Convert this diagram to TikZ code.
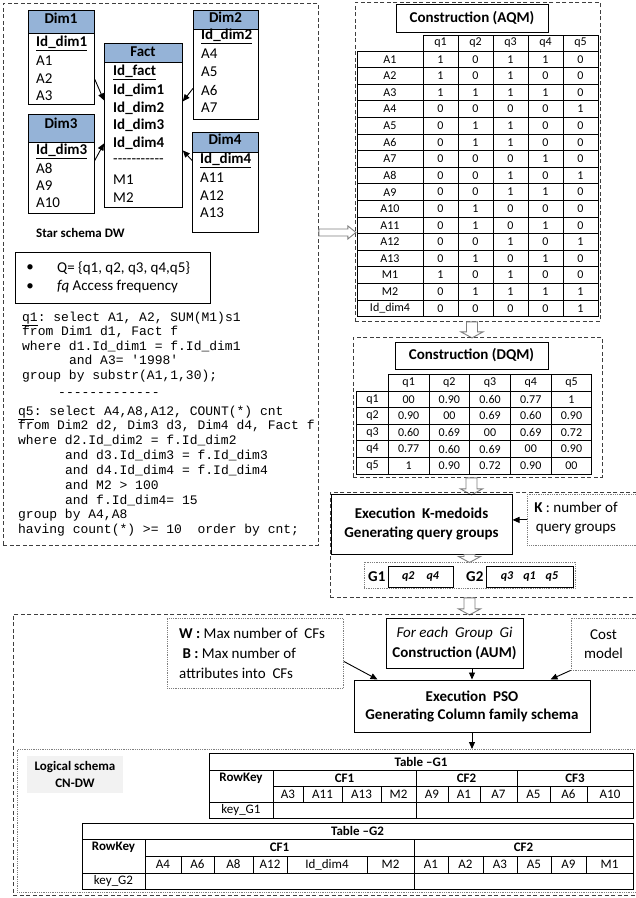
\documentclass[tikz,border=0pt]{standalone}
\usepackage{fontspec}
\setmainfont{Carlito}
\setmonofont{Liberation Mono}
\usetikzlibrary{arrows.meta, positioning, calc}
\definecolor{headblue}{HTML}{95B3D7}
\definecolor{dashgray}{HTML}{3F3F3F}
\definecolor{dotgray}{HTML}{7F7F7F}
\definecolor{labelbg}{HTML}{F2F2F2}
\definecolor{hollowgray}{HTML}{7F7F7F}

\begin{document}
\begin{tikzpicture}[x=1pt, y=-1pt,
  dashpanel/.style={draw=dashgray, line width=0.9pt, dash pattern=on 4pt off 2.5pt, inner sep=0pt},
  dotbox/.style={draw=dotgray, line width=0.8pt, dash pattern=on 0.9pt off 0.9pt, inner sep=0pt},
  solidbox/.style={draw=black, line width=0.8pt, inner sep=0pt},
  headcell/.style={draw=black, line width=0.8pt, fill=headblue, inner sep=0pt},
  bigtext/.style={font=\fontsize{15}{18}\selectfont, inner sep=0pt},
  bigbold/.style={font=\fontsize{15}{18}\selectfont\bfseries, inner sep=0pt},
  keyrow/.style={bigbold, anchor=west},
  attrrow/.style={bigtext, anchor=west},
  codeline/.style={anchor=west, font=\ttfamily\fontsize{13}{15}\selectfont, inner sep=0pt, text height=9pt, text depth=3pt},
  matcell/.style={draw=black, line width=1pt, inner sep=0pt, font=\fontsize{12}{14}\selectfont},
  cfcell/.style={draw=black, line width=0.8pt, inner sep=0pt, minimum height=16pt, font=\fontsize{13}{15}\selectfont},
  cfhead/.style={cfcell, font=\fontsize{13}{15}\selectfont\bfseries},
  link/.style={-{Triangle[length=7pt, width=6pt]}, line width=0.9pt},
  hollowline/.style={draw=hollowgray, fill=white, line width=0.9pt},
  pics/hollowdown/.style={code={
    \draw[hollowline] (-5.5,0) -- (-5.5,#1-6) -- (-11,#1-6) -- (0,#1)
      -- (11,#1-6) -- (5.5,#1-6) -- (5.5,0) -- cycle;}},
  pics/hollowright/.style={code={
    \draw[hollowline] (0,-3.5) -- (#1-8,-3.5) -- (#1-8,-6.5) -- (#1,0)
      -- (#1-8,6.5) -- (#1-8,3.5) -- (0,3.5) -- cycle;}}
]
\useasboundingbox (0,0) rectangle (636,898);

% star schema panel
\node[dashpanel, minimum width=315pt, minimum height=542pt, anchor=north west] (starpanel) at (3,3) {};

\node[solidbox, minimum width=66pt, minimum height=94pt, anchor=north west] (dimone) at (28,10) {};
\node[headcell, minimum width=66pt, minimum height=23pt, anchor=north] (dimonehead) at (dimone.north) {};
\node[bigbold] (dimonetitle) at (61,18) {Dim1};
\node[keyrow] (dimonekey) at (36,43) {\underline{Id\_dim1}};
\foreach \attr [count=\i] in {A1,A2,A3}
  \node[attrrow] (dimone-\i) at (36,43+17.6*\i) {\attr};

\node[solidbox, minimum width=65pt, minimum height=109pt, anchor=north west] (dimtwo) at (193,10) {};
\node[headcell, minimum width=65pt, minimum height=19pt, anchor=north] (dimtwohead) at (dimtwo.north) {};
\node[bigbold] (dimtwotitle) at (225.5,17) {Dim2};
\node[keyrow] (dimtwokey) at (201,36) {\underline{Id\_dim2}};
\foreach \attr [count=\i] in {A4,A5,A6,A7}
  \node[attrrow] (dimtwo-\i) at (201,36+18*\i) {\attr};

\node[solidbox, minimum width=78pt, minimum height=164pt, anchor=north west] (fact) at (104,43) {};
\node[headcell, minimum width=78pt, minimum height=19pt, anchor=north] (facthead) at (fact.north) {};
\node[bigbold] (facttitle) at (143,52) {Fact};
\node[keyrow] (factkey) at (113,72) {\underline{Id\_fact}};
\foreach \attr [count=\i] in {Id\_dim1,Id\_dim2,Id\_dim3,Id\_dim4}
  \node[keyrow] (fact-\i) at (113,72+17.9*\i) {\attr};
\node[attrrow] (factsep) at (113,161.5) {{-}{-}{-}{-}{-}{-}{-}{-}{-}{-}{-}};
\foreach \attr [count=\i] in {M1,M2}
  \node[attrrow] (factm-\i) at (113,161.5+17.9*\i) {\attr};

\node[solidbox, minimum width=66pt, minimum height=99pt, anchor=north west] (dimthree) at (28,114) {};
\node[headcell, minimum width=66pt, minimum height=28pt, anchor=north] (dimthreehead) at (dimthree.north) {};
\node[bigbold] (dimthreetitle) at (61,123) {Dim3};
\node[keyrow] (dimthreekey) at (36,151) {\underline{Id\_dim3}};
\foreach \attr [count=\i] in {A8,A9,A10}
  \node[attrrow] (dimthree-\i) at (36,151+17.3*\i) {\attr};

\node[solidbox, minimum width=66pt, minimum height=100pt, anchor=north west] (dimfour) at (192,132) {};
\node[headcell, minimum width=66pt, minimum height=20pt, anchor=north] (dimfourhead) at (dimfour.north) {};
\node[bigbold] (dimfourtitle) at (225,139) {Dim4};
\node[keyrow] (dimfourkey) at (200,160) {\underline{Id\_dim4}};
\foreach \attr [count=\i] in {A11,A12,A13}
  \node[attrrow] (dimfour-\i) at (200,160+17.7*\i) {\attr};

\draw[link] ([yshift=-22pt]dimone.east) -- ([yshift=25pt]fact.west);
\draw[link] ([yshift=3.5pt]dimthree.east) -- ([yshift=-18pt]fact.west);
\draw[link] ([yshift=-23.5pt]dimtwo.west) -- ([yshift=24pt]fact.east);
\draw[link] ([yshift=22pt]dimfour.west) -- ([yshift=-25pt]fact.east);

\node[font=\fontsize{13}{15}\selectfont\bfseries, inner sep=0pt, anchor=west] (starlabel) at (36,233) {Star schema DW};

% query set
\node[solidbox, line width=1pt, minimum width=195pt, minimum height=51pt, anchor=north west] (qbox) at (15,252) {};
\node[bigtext] (qbulletone) at (30,268) {\textbullet};
\node[attrrow] (qitemone) at (57,268) {Q= \{q1, q2, q3, q4,q5\}};
\node[bigtext] (qbullettwo) at (30,287) {\textbullet};
\node[attrrow] (qitemtwo) at (57,287) {\textit{fq} Access frequency};

\foreach \ln [count=\i from 0] in {
  {\underline{q1}: select A1, A2, SUM(M1)s1},
  {from Dim1 d1, Fact f},
  {where d1.Id\_dim1 = f.Id\_dim1},
  {\phantom{000000}and A3= '1998'},
  {group by substr(A1,1,30);}}
  \node[codeline] (qone-\i) at (22,318+14.6*\i) {\ln};
\node[codeline] (qsep) at (58,393) {-------------};
\foreach \ln [count=\i from 0] in {
  {\underline{q5}: select A4,A8,A12, COUNT(*) cnt},
  {from Dim2 d2, Dim3 d3, Dim4 d4, Fact f},
  {where d2.Id\_dim2 = f.Id\_dim2},
  {\phantom{000000}and d3.Id\_dim3 = f.Id\_dim3},
  {\phantom{000000}and d4.Id\_dim4 = f.Id\_dim4},
  {\phantom{000000}and M2 > 100},
  {\phantom{000000}and f.Id\_dim4= 15},
  {group by A4,A8},
  {having count(*) >= 10\phantom{0} order by cnt;}}
  \node[codeline] (qfive-\i) at (18,412+14.85*\i) {\ln};

% attribute usage matrix
\node[dashpanel, minimum width=245pt, minimum height=319pt, anchor=north west] (aqmpanel) at (355,2) {};
\node[solidbox, line width=1pt, minimum width=152pt, minimum height=28pt, bigbold] (aqmtitle) at (472,18) {Construction (AQM)};
\foreach \q [count=\col] in {q1,q2,q3,q4,q5}
  \node[matcell, minimum width=35pt, minimum height=16pt] (aqmhead-\col) at (405.5+35*\col,43) {\q};
\foreach \lab/\va/\vb/\vc/\vd/\ve [count=\row] in {
  A1/1/0/1/1/0, A2/1/0/1/0/0, A3/1/1/1/1/0, A4/0/0/0/0/1,
  A5/0/1/1/0/0, A6/0/1/1/0/0, A7/0/0/0/1/0, A8/0/0/1/0/1,
  A9/0/0/1/1/0, A10/0/1/0/0/0, A11/0/1/0/1/0, A12/0/0/1/0/1,
  A13/0/1/0/1/0, M1/1/0/1/0/0, M2/0/1/1/1/1, Id\_dim4/0/0/0/0/1} {
  \node[matcell, minimum width=66pt, minimum height=16.6pt] (aqmlab-\row) at (390,42.7+16.6*\row) {\lab};
  \foreach \v [count=\col] in {\va,\vb,\vc,\vd,\ve}
    \node[matcell, minimum width=35pt, minimum height=16.6pt] (aqm-\row-\col) at (405.5+35*\col,42.7+16.6*\row) {\v};
}
\pic at ($(starpanel.east)+(0,-42)$) {hollowright=37};
\pic at (aqmpanel.south -| aqmtitle.south) {hollowdown=16};

% distance matrix
\node[dashpanel, minimum width=249pt, minimum height=140pt, anchor=north west] (dqmpanel) at (353,337) {};
\node[solidbox, line width=1pt, minimum width=153pt, minimum height=27pt, bigbold] (dqmtitle) at (471.5,355.5) {Construction (DQM)};
\foreach \q [count=\col] in {q1,q2,q3,q4,q5}
  \node[matcell, minimum width=40.7pt, minimum height=17pt] (dqmhead-\col) at (367.95+40.7*\col,382.5) {\q};
\foreach \lab/\va/\vb/\vc/\vd/\ve [count=\row] in {
  q1/00/0.90/0.60/0.77/1, q2/0.90/00/0.69/0.60/0.90,
  q3/0.60/0.69/00/0.69/0.72, q4/0.77/0.60/0.69/00/0.90,
  q5/1/0.90/0.72/0.90/00} {
  \node[matcell, minimum width=31.3pt, minimum height=16.6pt] (dqmlab-\row) at (372.6,382.7+16.6*\row) {\lab};
  \foreach \v [count=\col] in {\va,\vb,\vc,\vd,\ve}
    \node[matcell, minimum width=40.7pt, minimum height=16.6pt] (dqm-\row-\col) at (367.95+40.7*\col,382.7+16.6*\row) {\v};
}
\pic at (dqmpanel.south -| dqmtitle.south) {hollowdown=17};

% k-medoids
\node[dashpanel, minimum width=312pt, minimum height=105pt, anchor=north west] (kpanel) at (330,492) {};
\node[solidbox, line width=1pt, minimum width=181pt, minimum height=60pt, align=center, font=\fontsize{15}{19}\selectfont\bfseries] (execbox) at (421.5,524) {Execution\ \ K-medoids\\Generating query groups};
\node[dotbox, minimum width=115pt, minimum height=51pt, anchor=north west] (kbox) at (527,494) {};
\node[align=center, inner sep=0pt, font=\fontsize{15}{19}\selectfont] (ktext) at (576,518.5) {\textbf{K} : number of\\query groups};
\draw[link] (kbox.west) -- (kbox.west -| execbox.east);

\node[dotbox, minimum width=211pt, minimum height=26pt] (gbox) at (469.5,575) {};
\node[solidbox, minimum width=65pt, minimum height=21pt, font=\fontsize{12}{14}\selectfont\bfseries\itshape] (gone) at (420.5,576.5) {q2\hspace{12pt}q4};
\node[bigbold, left=2pt of gone] (gonelabel) {G1};
\node[solidbox, minimum width=87pt, minimum height=21pt, font=\fontsize{12}{14}\selectfont\bfseries\itshape] (gtwo) at (529.5,576.5) {q3\hspace{10pt}q1\hspace{10pt}q5};
\node[bigbold, left=2pt of gtwo] (gtwolabel) {G2};
\pic at (execbox.south -| gbox.north) {hollowdown=8};
\pic at (gbox.south |- kpanel.south) {hollowdown=17};

% PSO and column family schema
\node[dashpanel, minimum width=629pt, minimum height=281pt, anchor=north west] (schemapanel) at (13,614) {};
\node[dotbox, minimum width=176pt, minimum height=70pt, anchor=north west] (wbbox) at (167,618) {};
\node[anchor=west, align=left, inner sep=0pt, font=\fontsize{15}{20}\selectfont] (wbtext) at (179,653) {\textbf{W :} Max number of\ \ CFs\\\ \textbf{B :} Max number of\\attributes into\ \ CFs};
\node[solidbox, line width=1pt, minimum width=137pt, minimum height=50pt, align=center, font=\fontsize{15}{20}\selectfont] (aumbox) at (454.5,643) {\textit{For each\ \ Group\ \ Gi}\\\textbf{Construction (AUM)}};
\node[dotbox, minimum width=65pt, minimum height=52pt, align=center, font=\fontsize{15}{19}\selectfont] (costbox) at (603.5,644) {Cost\\model};
\node[solidbox, line width=1pt, minimum width=236pt, minimum height=52pt, align=center, font=\fontsize{15}{18}\selectfont\bfseries] (psobox) at (472,706) {Execution\ \ PSO\\Generating Column family schema};
\draw[link] ([yshift=-8pt]wbbox.east) -- ([xshift=24pt]psobox.north west);
\draw[link] (aumbox.south -| psobox.north) -- (psobox.north);
\draw[link] (costbox.south west) -- ([xshift=-40pt]psobox.north east);

\node[dotbox, minimum width=625pt, minimum height=143pt, anchor=north west] (logicbox) at (17,749) {};
\draw[link] (psobox.south) -- (psobox.south |- logicbox.north);
\node[fill=labelbg, minimum width=96pt, minimum height=37pt, inner sep=0pt, align=center, font=\fontsize{13}{17}\selectfont\bfseries] (logiclabel) at (75,774.5) {Logical schema\\CN-DW};

% Table G1
\node[cfhead, minimum width=424pt, minimum height=17pt] (gonetitle) at (421,761.5) {Table --G1};
\node[cfcell, minimum width=64pt, minimum height=32pt] (gonerowcell) at (241,786) {};
\node[font=\fontsize{13}{15}\selectfont\bfseries, inner sep=0pt] (gonerowkey) at (241,778) {RowKey};
\foreach \cf/\xa/\xb in {CF1/273/416, CF2/416/517, CF3/517/633}
  \node[cfhead, minimum width={\xb-\xa}] (gone-\cf) at ({(\xa+\xb)/2},778) {\cf};
\foreach \attr/\xa/\xb [count=\i] in {A3/273/303, A11/303/342, A13/342/381, M2/381/416,
  A9/416/448, A1/448/480, A7/480/517, A5/517/550, A6/550/587, A10/587/633}
  \node[cfcell, minimum width={\xb-\xa}] (goneattr-\i) at ({(\xa+\xb)/2},794) {\attr};
\node[cfcell, minimum width=64pt] (gonekey) at (241,810) {key\_G1};
\foreach \xa/\xb [count=\i] in {273/416, 416/633}
  \node[cfcell, minimum width={\xb-\xa}] (goneval-\i) at ({(\xa+\xb)/2},810) {};

% Table G2
\node[cfhead, minimum width=551pt, minimum height=16pt] (gtwotitle) at (357.5,831) {Table --G2};
\node[cfcell, minimum width=63pt, minimum height=34pt] (gtworowcell) at (113.5,856) {};
\node[font=\fontsize{13}{15}\selectfont\bfseries, inner sep=0pt] (gtworowkey) at (113.5,847.5) {RowKey};
\foreach \cf/\xa/\xb in {CF1/145/414, CF2/414/633}
  \node[cfhead, minimum width={\xb-\xa}, minimum height=17pt] (gtwo-\cf) at ({(\xa+\xb)/2},847.5) {\cf};
\foreach \attr/\xa/\xb [count=\i] in {A4/145/181, A6/181/214, A8/214/253, A12/253/287,
  Id\_dim4/287/367, M2/367/414, A1/414/448, A2/448/483, A3/483/517, A5/517/551,
  A9/551/586, M1/586/633}
  \node[cfcell, minimum width={\xb-\xa}, minimum height=17pt] (gtwoattr-\i) at ({(\xa+\xb)/2},864.5) {\attr};
\node[cfcell, minimum width=63pt] (gtwokey) at (113.5,881) {key\_G2};
\foreach \xa/\xb [count=\i] in {145/414, 414/633}
  \node[cfcell, minimum width={\xb-\xa}] (gtwoval-\i) at ({(\xa+\xb)/2},881) {};
\end{tikzpicture}
\end{document}
